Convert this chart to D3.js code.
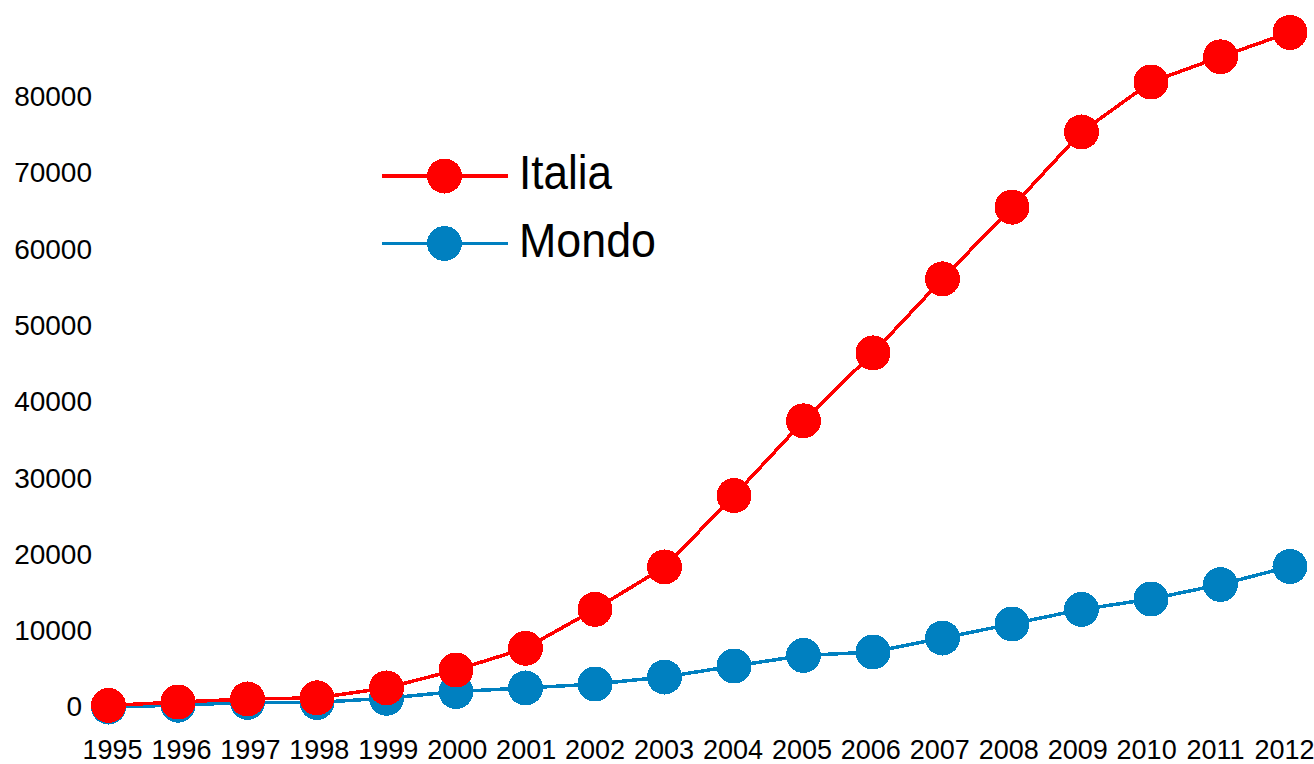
<!DOCTYPE html>
<html>
<head>
<meta charset="utf-8">
<script src="https://cdn.jsdelivr.net/npm/d3@7"></script>
<style>
  html, body { margin: 0; padding: 0; background: #fff; }
  svg { display: block; }
  .axis text { font-family: "Liberation Sans", Arial, sans-serif; font-size: 28px; fill: #000; }
  .axis.x-axis text { font-size: 27px; }
  .legend text { font-family: "Liberation Sans", Arial, sans-serif; font-size: 49px; fill: #000; }
</style>
</head>
<body>
<svg id="chart" width="1314" height="764"></svg>
<script>
// Years on the horizontal axis
const years = ["1995","1996","1997","1998","1999","2000","2001","2002","2003",
               "2004","2005","2006","2007","2008","2009","2010","2011","2012"];

// Cumulative totals per year
const italia = [200, 650, 1050, 1200, 2500, 4850, 7700, 12800, 18350,
                27700, 37500, 46400, 56100, 65500, 75350, 81900, 85200, 88400];
const mondo  = [0, 240, 600, 600, 1150, 2030, 2490, 3010, 3930,
                5370, 6750, 7210, 9040, 10880, 12780, 14150, 16050, 18410];

// Vertical axis tick values
const yTicks = [0, 10000, 20000, 30000, 40000, 50000, 60000, 70000, 80000];

const seriesNames = ["Italia", "Mondo"];
const seriesColors = ["#ff0000", "#0080c0"];

const svg = d3.select("#chart");

const x = d3.scalePoint().domain(years).range([108.5, 1290]);
// Year labels are packed slightly tighter than the markers
const xLabel = d3.scalePoint().domain(years).range([112, 1284]);
const y = d3.scaleLinear().domain([0, 80000]).range([707, 96.5]);

// Y axis: labels only, right-aligned
const yAxis = svg.append("g")
  .attr("class", "axis")
  .attr("transform", "translate(92,0)")
  .call(d3.axisLeft(y).tickValues(yTicks).tickSize(0).tickPadding(0).tickFormat(d3.format("d")));
yAxis.select(".domain").remove();
yAxis.selectAll(".tick")
  .filter(d => d === 0)
  .select("text")
  .attr("dx", -10);

// X axis: year labels
const xAxis = svg.append("g")
  .attr("class", "axis x-axis")
  .attr("transform", "translate(0,740)")
  .call(d3.axisBottom(xLabel).tickSize(0).tickPadding(0));
xAxis.select(".domain").remove();

const line = d3.line()
  .x((d, i) => x(years[i]))
  .y(d => y(d));

// Draw Mondo first so Italia sits on top
const series = [
  { name: seriesNames[1], values: mondo, color: seriesColors[1] },
  { name: seriesNames[0], values: italia, color: seriesColors[0] }
];

series.forEach(s => {
  const g = svg.append("g").attr("shape-rendering", "crispEdges");
  g.append("path")
    .datum(s.values)
    .attr("fill", "none")
    .attr("stroke", s.color)
    .attr("stroke-width", 3.5)
    .attr("d", line);
  g.selectAll("circle")
    .data(s.values)
    .join("circle")
    .attr("cx", (d, i) => x(years[i]))
    .attr("cy", d => y(d))
    .attr("r", 17.5)
    .attr("fill", s.color);
});

// Legend
const legend = svg.append("g").attr("class", "legend");
const legendRows = [
  { name: seriesNames[0], color: seriesColors[0], y: 176, len: 93 },
  { name: seriesNames[1], color: seriesColors[1], y: 243.5, len: 137 }
];
legendRows.forEach(r => {
  const g = legend.append("g").attr("transform", `translate(0,${r.y})`);
  g.append("line")
    .attr("x1", 382).attr("x2", 508)
    .attr("y1", 0).attr("y2", 0)
    .attr("stroke", r.color)
    .attr("stroke-width", 3.5)
    .attr("shape-rendering", "crispEdges");
  g.append("circle")
    .attr("cx", 444.5).attr("cy", 0).attr("r", 17.5)
    .attr("fill", r.color)
    .attr("shape-rendering", "crispEdges");
  g.append("text")
    .attr("x", 519)
    .attr("y", 13)
    .attr("textLength", r.len)
    .attr("lengthAdjust", "spacingAndGlyphs")
    .text(r.name);
});
</script>
</body>
</html>
